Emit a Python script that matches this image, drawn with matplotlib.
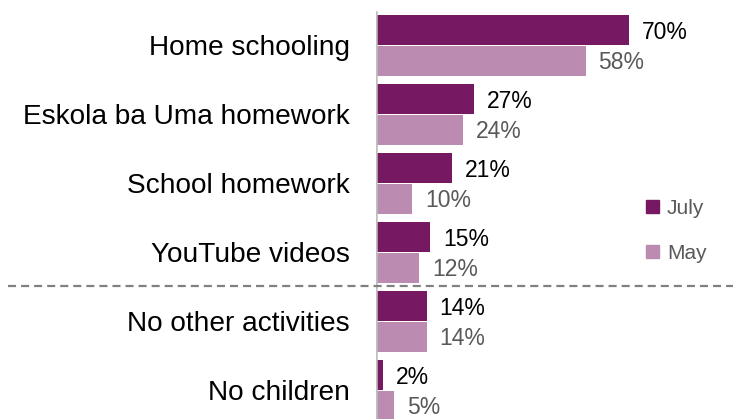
import matplotlib.pyplot as plt
from matplotlib.lines import Line2D
from matplotlib.patches import Patch

plt.rcParams['font.family'] = ['Liberation Sans', 'DejaVu Sans']
plt.rcParams['lines.scale_dashes'] = False

CATEGORIES = ['Home schooling', 'Eskola ba Uma homework', 'School homework',
              'YouTube videos', 'No other activities', 'No children']
JULY = [70, 27, 21, 15, 14, 2]
MAY = [58, 24, 10, 12, 14, 5]

JULY_COLOR = '#771962'
MAY_COLOR = '#bb8bb1'
GREY_TEXT = '#595959'

BAR_H = 0.435
OFFSET = 3.6

fig = plt.figure(figsize=(7.33, 4.19), dpi=100)
ax = fig.add_axes([376 / 733, 0, 357 / 733, 1])

ypos = list(range(len(CATEGORIES)))
july_y = [y - 0.217 for y in ypos]
may_y = [y + 0.225 for y in ypos]

ax.barh(july_y, JULY, height=BAR_H, color=JULY_COLOR)
ax.barh(may_y, MAY, height=BAR_H, color=MAY_COLOR)

for y, v in zip(july_y, JULY):
    ax.text(v + OFFSET, y + 0.03, f'{v}%', va='center', ha='left', fontsize=16.5, color='black')
for y, v in zip(may_y, MAY):
    ax.text(v + OFFSET, y + 0.03, f'{v}%', va='center', ha='left', fontsize=16.5, color=GREY_TEXT)

ax.set_xlim(0, 98.8)
ax.set_ylim(419 / 69 - 0.652, -0.652)

ax.set_yticks(ypos)
ax.set_yticklabels(CATEGORIES, fontsize=20.2)
ax.tick_params(axis='y', length=0, pad=19)
ax.set_xticks([])
for s in ax.spines.values():
    s.set_visible(False)
ax.axvline(0, ymin=0, ymax=1 - 12 / 419, color='#bfbfbf', lw=1.8)

# separator between activities and the "no" answers
fig.add_artist(Line2D([8 / 733, 1], [1 - 286 / 419] * 2, transform=fig.transFigure,
                      color='#808080', lw=1.6, dashes=(5.8, 3.6)))

handles = [Patch(color=JULY_COLOR, label='July'), Patch(color=MAY_COLOR, label='May')]
leg = fig.legend(handles=handles, loc='upper left', bbox_to_anchor=(627 / 733, 1 - 180 / 419),
                 frameon=False, fontsize=15, labelspacing=1.25, handlelength=0.62,
                 handleheight=0.62, handletextpad=0.4)
for t in leg.get_texts():
    t.set_color(GREY_TEXT)

fig.savefig('out.png', dpi=100)
